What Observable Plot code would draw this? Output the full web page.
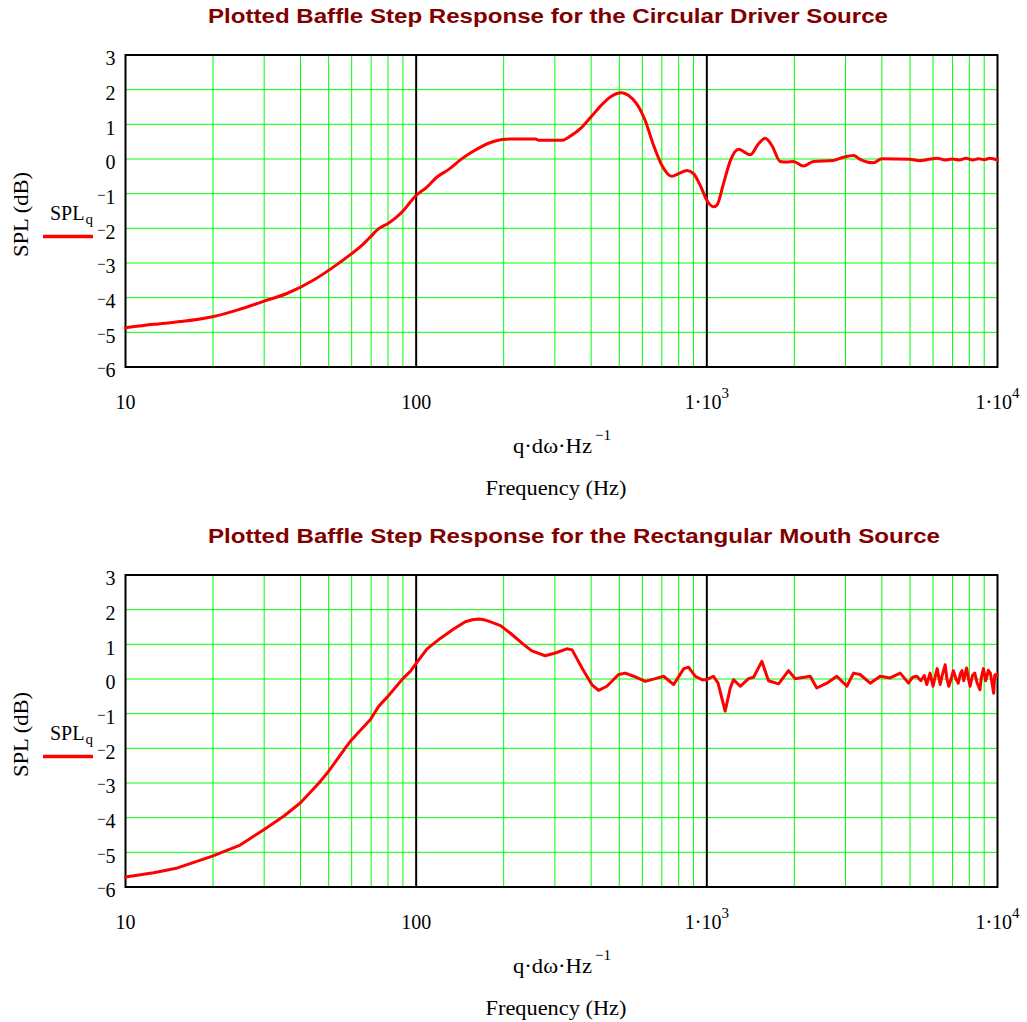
<!DOCTYPE html>
<html><head><meta charset="utf-8">
<script src="https://cdn.jsdelivr.net/npm/d3@7"></script>
<script src="https://cdn.jsdelivr.net/npm/@observablehq/plot@0.6"></script>
<style>
body{margin:0;background:#fff;}
#wrap{width:1027px;height:1022px;background:#fff;}
#wrap svg{display:block;}
</style></head><body><div id="wrap"></div>
<script>
// ---- data ----
const freqCircular = [10,12.5,15.5,19.9,24.2,30,35.9,44.4,53.5,60,64.3,69.5,74.3,80,85,90.6,95.5,100,103.4,107.6,118,129.4,143.8,155.6,182.4,197.5,210.9,257,264,317.5,339,372,402,435.5,465.6,510.5,538,574,613.6,656,700,758,800,855,900,949,1000,1054,1083,1141,1206,1285,1410,1506,1587,1674,1788,1885,1986,2150,2327,2728,2952,3197,3367,3741,4000,5000,5400,5800,6200,6600,7000,7400,7800,8200,8600,9000,9400,10000];
const splCircular = [-4.87,-4.77,-4.69,-4.55,-4.36,-4.10,-3.88,-3.49,-3.04,-2.73,-2.53,-2.25,-2.01,-1.86,-1.70,-1.48,-1.24,-1.05,-0.95,-0.85,-0.52,-0.30,0.01,0.20,0.49,0.56,0.58,0.58,0.54,0.54,0.66,0.92,1.24,1.57,1.79,1.91,1.83,1.59,1.11,0.39,-0.18,-0.50,-0.42,-0.33,-0.42,-0.76,-1.19,-1.38,-1.33,-0.71,-0.04,0.28,0.12,0.44,0.60,0.39,-0.07,-0.09,-0.07,-0.20,-0.07,-0.04,0.05,0.10,-0.01,-0.11,0.01,-0.01,-0.05,-0.01,0.02,-0.03,0.00,-0.03,0.02,-0.03,0.01,-0.02,0.02,-0.03];
const freqMouth = [10,12.5,15.1,19.9,24.8,30,35,40,46.3,50,57.1,60,69.6,74.3,80,90,95.5,100,109,121,134.6,147.6,156,164,171,177.5,195,211,234,250,278,301,330,344,372,402,424,453,497,524,560,614,665,710,769,833,865,912,962,1000,1054,1093,1156,1204,1235,1303,1391,1448,1546,1630,1765,1910,2013,2268,2389,2587,2800,3032,3197,3367,3648,3948,4273,4627,4940,5100,5277,5450,5600,5710,5860,6000,6100,6200,6350,6450,6606,6700,6800,6950,7050,7200,7330,7450,7550,7650,7830,7950,8050,8200,8350,8500,8700,8800,8950,9100,9200,9300,9450,9550,9700,9780,9850,9950,10000];
const splMouth = [-5.71,-5.59,-5.45,-5.11,-4.79,-4.34,-3.96,-3.57,-3.0,-2.66,-1.99,-1.75,-1.17,-0.79,-0.50,0.01,0.22,0.45,0.87,1.17,1.44,1.65,1.71,1.73,1.71,1.67,1.54,1.32,1.00,0.81,0.67,0.75,0.87,0.84,0.32,-0.16,-0.33,-0.21,0.13,0.17,0.08,-0.07,0.01,0.08,-0.16,0.30,0.34,0.08,-0.02,-0.02,0.08,-0.12,-0.93,-0.26,-0.02,-0.21,0.01,0.05,0.51,-0.05,-0.14,0.24,0.01,0.08,-0.26,-0.12,0.08,-0.21,0.17,0.13,-0.12,0.08,0.03,0.17,-0.12,0.05,0.08,-0.05,0.10,-0.16,0.17,-0.21,0.05,0.30,-0.16,0.10,0.41,0.00,-0.21,0.05,0.24,0.00,-0.12,0.15,0.24,-0.05,0.32,0.00,-0.21,0.10,0.17,-0.10,-0.31,0.05,0.30,-0.05,0.08,0.25,0.17,-0.05,-0.41,0.10,0.13,0.10,0.13];
const xTickValues = [10, 100, 1000, 10000];
const xTickLabels = ["10", "100", "1·10^3", "1·10^4"];
const yTickValues = [-6, -5, -4, -3, -2, -1, 0, 1, 2, 3];
const minorFreqs = [20,30,40,50,60,70,80,90,200,300,400,500,600,700,800,900,2000,3000,4000,5000,6000,7000,8000,9000];
const majorFreqs = [100, 1000];
const chartTitles = ["Plotted Baffle Step Response for the Circular Driver Source", "Plotted Baffle Step Response for the Rectangular Mouth Source"];
const titleWidths = [680, 732];
const xLabelMain = "q·dω·Hz";
const xLabelExp = "−1";
const xLabelSecond = "Frequency (Hz)";
const yLabel = "SPL (dB)";
const legendName = "SPL";
const legendSub = "q";

const SVGNS = "http://www.w3.org/2000/svg";
function el(tag, attrs, text) {
  const e = document.createElementNS(SVGNS, tag);
  for (const k in attrs) e.setAttribute(k, attrs[k]);
  if (text != null) e.textContent = text;
  return e;
}

function makeChart(freqs, spls, title, titleWidth, curve) {
  const data = freqs.map((f, i) => ({f, spl: spls[i]}));
  const svg = Plot.plot({
    width: 1027, height: 520,
    marginLeft: 125, marginRight: 30, marginTop: 54.5, marginBottom: 153.5,
    style: {fontFamily: "'Liberation Serif', 'Times New Roman', serif", fontSize: "20px", background: "white", overflow: "visible"},
    x: {type: "log", domain: [10, 10000]},
    y: {domain: [-6, 3]},
    marks: [
      Plot.ruleY(yTickValues.filter(v => v > -6), {stroke: "#00ff00", strokeWidth: 1}),
      Plot.ruleX(minorFreqs, {stroke: "#00ff00", strokeWidth: 1}),
      Plot.ruleX(majorFreqs, {stroke: "black", strokeWidth: 2}),
      Plot.frame({stroke: "black", strokeWidth: 2}),
      Plot.line(data, {x: "f", y: "spl", stroke: "red", strokeWidth: 3, curve}),
      Plot.axisX({ticks: xTickValues, tickSize: 0, tickPadding: 28, label: null, fontSize: 20,
        tickFormat: d => xTickLabels[xTickValues.indexOf(d)]}),
      Plot.axisY({ticks: yTickValues, tickSize: 0, tickPadding: 10, label: null, fontSize: 20, dy: 4,
        tickFormat: d => d < 0 ? "~" + (-d) : String(d)})
    ]
  });
  // superscripts in x tick labels
  svg.querySelectorAll('g[aria-label="x-axis tick label"] text').forEach(t => {
    const s = t.textContent;
    if (s.includes("^")) {
      const [b, e] = s.split("^");
      t.textContent = b;
      t.appendChild(el("tspan", {dy: "-11", "font-size": "15"}, e));
    }
  });
  // raised minus for negative y tick labels
  svg.querySelectorAll('g[aria-label="y-axis tick label"] text').forEach(t => {
    const s = t.textContent;
    if (s.startsWith("~")) {
      t.textContent = "";
      t.appendChild(el("tspan", {dy: "-4", "font-size": "15"}, "−"));
      t.appendChild(el("tspan", {dy: "4"}, s.slice(1)));
    }
  });
  // title
  svg.appendChild(el("text", {x: 208, y: 23, "text-anchor": "start", fill: "#800000",
    "font-family": "'Liberation Sans', Arial, sans-serif", "font-weight": "bold", "font-size": "20",
    textLength: titleWidth, lengthAdjust: "spacingAndGlyphs"}, title));
  // x labels
  const xl = el("text", {x: 513, y: 453, "text-anchor": "start", "font-size": "20"});
  xl.appendChild(el("tspan", {textLength: 79, lengthAdjust: "spacingAndGlyphs"}, xLabelMain));
  xl.appendChild(el("tspan", {dx: "3", dy: "-13", "font-size": "15"}, xLabelExp));
  svg.appendChild(xl);
  svg.appendChild(el("text", {x: 556, y: 495, "text-anchor": "middle", "font-size": "20",
    textLength: 141, lengthAdjust: "spacingAndGlyphs"}, xLabelSecond));
  // y label
  svg.appendChild(el("text", {transform: "translate(28,214.5) rotate(-90)", "text-anchor": "middle", "font-size": "20",
    textLength: 85, lengthAdjust: "spacingAndGlyphs"}, yLabel));
  // legend
  const lg = el("text", {x: 50, y: 220, "text-anchor": "start", "font-size": "20"}, legendName);
  lg.appendChild(el("tspan", {dx: "1", dy: "4", "font-size": "15"}, legendSub));
  svg.appendChild(lg);
  svg.appendChild(el("line", {x1: 43, x2: 93, y1: 236.5, y2: 236.5, stroke: "red", "stroke-width": 3.5}));
  return svg;
}

const wrap = document.getElementById("wrap");
wrap.appendChild(makeChart(freqCircular, splCircular, chartTitles[0], titleWidths[0], "monotone-x"));
wrap.appendChild(makeChart(freqMouth, splMouth, chartTitles[1], titleWidths[1], "linear"));
</script></body></html>
